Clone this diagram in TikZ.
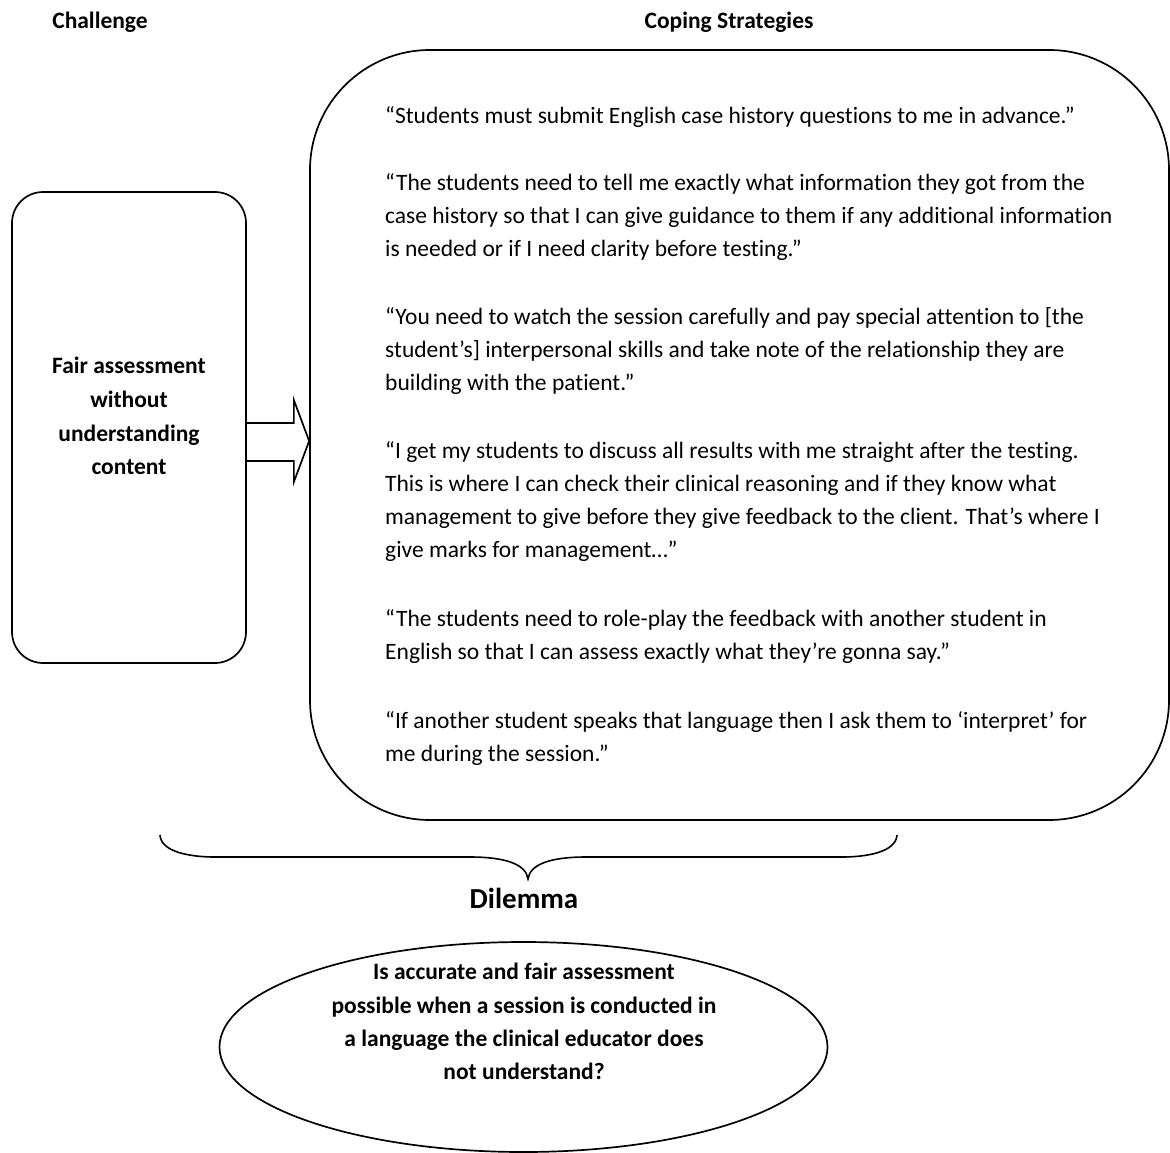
\documentclass[tikz,border=0pt]{standalone}
\usepackage{fontspec}
\setmainfont{Carlito}[Ligatures=NoCommon]
\usetikzlibrary{calc}
\begin{document}
\begin{tikzpicture}[x=1pt,y=-1pt,
  outl/.style={draw=black,line width=1.7pt},
  bodytxt/.style={anchor=base west,inner sep=0pt,font=\fontsize{23.5}{33}\selectfont},
  boldtxt/.style={anchor=base,inner sep=0pt,font=\fontsize{23.5}{33}\selectfont\bfseries},
]
\useasboundingbox[fill=white] (0,0) rectangle (1170,1153);

% headers
\node[boldtxt] (hchal) at (100,29) {Challenge};
\node[boldtxt] (hcope) at (729,29) {Coping Strategies};

% challenge box
\node[outl,rectangle,rounded corners=31pt,minimum width=234pt,minimum height=471pt,inner sep=0pt] (chal) at (129,427.5) {};
\node[boldtxt] (c1) at (129,373) {Fair assessment};
\node[boldtxt] (c2) at (129,407) {without};
\node[boldtxt] (c3) at (129,441) {understanding};
\node[boldtxt] (c4) at (129,474) {content};

% coping strategies box
\node[outl,rectangle,rounded corners=120pt,minimum width=859pt,minimum height=770pt,inner sep=0pt] (cope) at (739.5,435) {};

% block arrow
\draw[outl,line join=miter] ($(chal.east)+(0,-4.5)$) -- ($(chal.east)+(47,-4.5)$) -- ($(chal.east)+(47,-27.5)$)
  -- ($(cope.west |- chal.east)+(0,13.5)$) -- ($(chal.east)+(47,54.5)$) -- ($(chal.east)+(47,33.5)$) -- ($(chal.east)+(0,33.5)$);

% quotes
\node[bodytxt] (q1a) at (385,124) {“Students must submit English case history questions to me in advance.”};
\node[bodytxt] (q2a) at (385,190) {“The students need to tell me exactly what information they got from the};
\node[bodytxt] (q2b) at (385,223) {case history so that I can give guidance to them if any additional information};
\node[bodytxt] (q2c) at (385,256) {is needed or if I need clarity before testing.”};
\node[bodytxt] (q3a) at (385,324) {“You need to watch the session carefully and pay special attention to [the};
\node[bodytxt] (q3b) at (385,357) {student’s] interpersonal skills and take note of the relationship they are};
\node[bodytxt] (q3c) at (385,390) {building with the patient.”};
\node[bodytxt] (q4a) at (385,458) {“I get my students to discuss all results with me straight after the testing.};
\node[bodytxt] (q4b) at (385,491) {This is where I can check their clinical reasoning and if they know what};
\node[bodytxt] (q4c) at (385,524) {management to give before they give feedback to the client. That’s where I};
\node[bodytxt] (q4d) at (385,557) {give marks for management…”};
\node[bodytxt] (q5a) at (385,626) {“The students need to role-play the feedback with another student in};
\node[bodytxt] (q5b) at (385,659) {English so that I can assess exactly what they’re gonna say.”};
\node[bodytxt] (q6a) at (385,728) {“If another student speaks that language then I ask them to ‘interpret’ for};
\node[bodytxt] (q6b) at (385,761) {me during the session.”};

% brace
\coordinate (bl) at (160,835);
\coordinate (br) at (897,835);
\coordinate (bt) at (528,879);
\draw[outl,line width=1.6pt] (bl) .. controls (161,852) and (190,857) .. (215,857) -- (470,857)
  .. controls (505,857) and (526,864) .. (bt) .. controls (530,864) and (551,857) .. (586,857)
  -- (842,857) .. controls (867,857) and (896,852) .. (br);

\node[anchor=base,inner sep=0pt,font=\fontsize{29}{34}\selectfont\bfseries] (dil) at (524,908) {Dilemma};

% dilemma ellipse
\draw[outl] (523.5,1047) ellipse [x radius=304, y radius=105];
\coordinate (ell) at (523.5,1047);
\node[boldtxt] (e1) at (524,979) {Is accurate and fair assessment};
\node[boldtxt] (e2) at (524,1013) {possible when a session is conducted in};
\node[boldtxt] (e3) at (524,1046) {a language the clinical educator does};
\node[boldtxt] (e4) at (524,1079) {not understand?};
\end{tikzpicture}
\end{document}
